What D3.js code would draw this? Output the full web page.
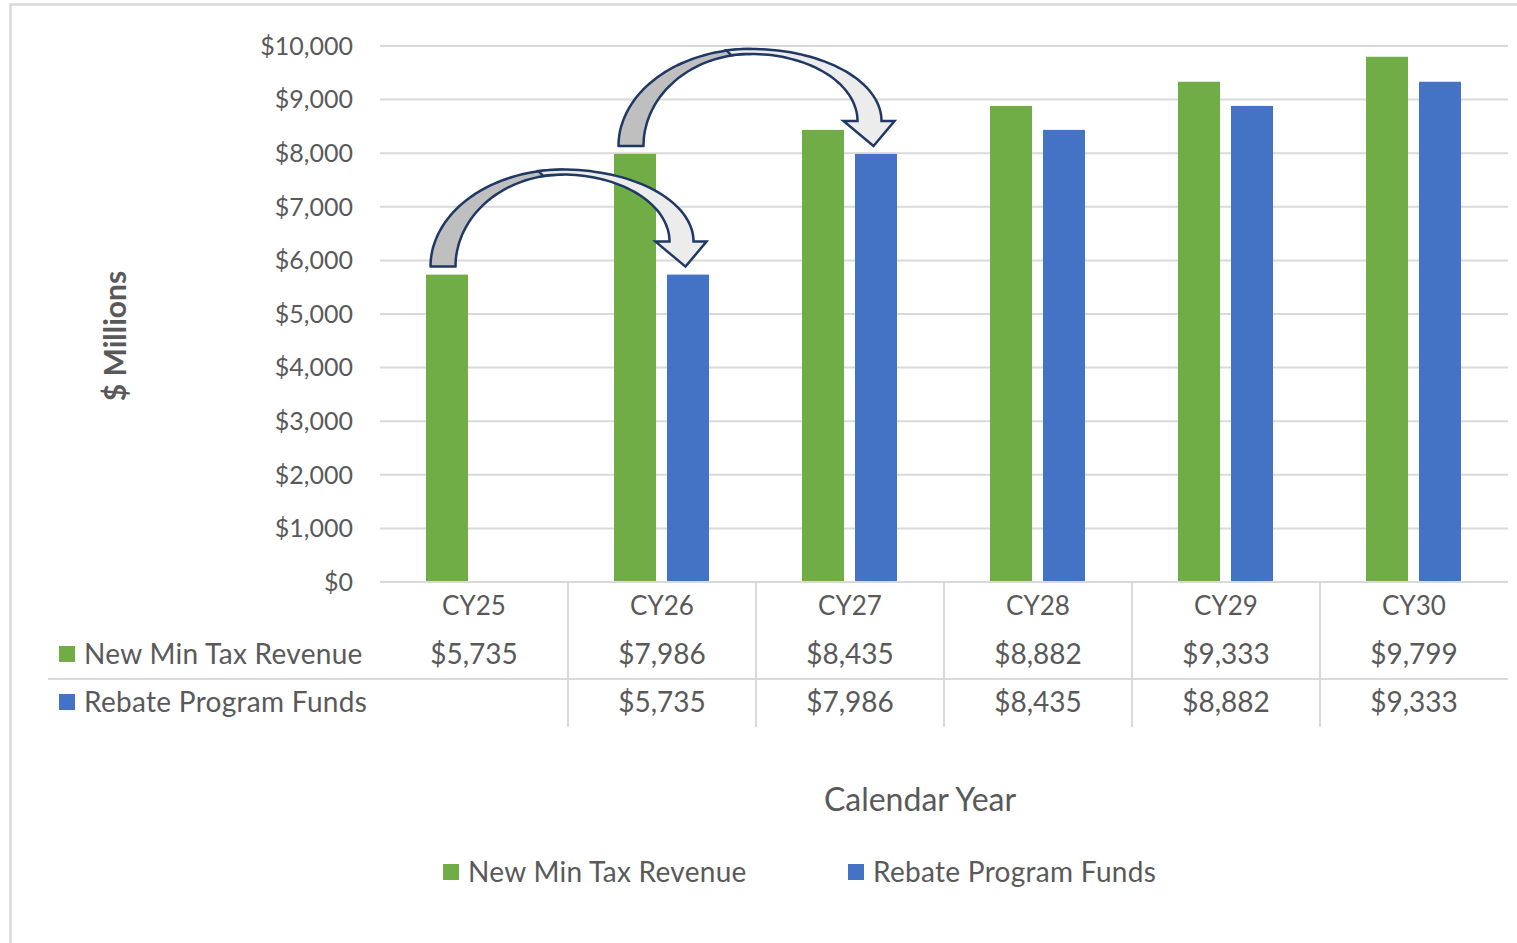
<!DOCTYPE html>
<html>
<head>
<meta charset="utf-8">
<script src="https://cdn.jsdelivr.net/npm/d3@7"></script>
<style>
  html, body { margin: 0; padding: 0; background: #fff; }
  svg { display: block; font-family: Lato, 'Open Sans', sans-serif; }
</style>
</head>
<body>
<script>
// chart data
const categories = ['CY25', 'CY26', 'CY27', 'CY28', 'CY29', 'CY30'];
const newMinTax = [5735, 7986, 8435, 8882, 9333, 9799];
const rebateFunds = [null, 5735, 7986, 8435, 8882, 9333];
const yTicks = [0, 1000, 2000, 3000, 4000, 5000, 6000, 7000, 8000, 9000, 10000];
const seriesNames = ['New Min Tax Revenue', 'Rebate Program Funds'];
const seriesColors = ['#70ad47', '#4472c4'];

const W = 1517, H = 943;
const textColor = '#595959';
const gridColor = '#d9d9d9';

const svg = d3.select('body').append('svg')
  .attr('width', W)
  .attr('height', H);

// outer chart frame (cut off at right/bottom)
svg.append('path')
  .attr('d', `M10.5,${H} L10.5,4.5 L${W},4.5`)
  .attr('fill', 'none')
  .attr('stroke', gridColor)
  .attr('stroke-width', 2.5);

const plot = { left: 380, right: 1508, top: 46, bottom: 582 };

const x0 = d3.scaleBand()
  .domain(categories)
  .range([plot.left, plot.right])
  .padding(0);

const x1 = d3.scaleBand()
  .domain([0, 1])
  .range([46, 141])
  .paddingInner(11 / 53);

const y = d3.scaleLinear()
  .domain([0, 10000])
  .range([plot.bottom, plot.top]);

// gridlines
svg.append('g')
  .selectAll('line')
  .data(yTicks)
  .join('line')
  .attr('x1', plot.left)
  .attr('x2', plot.right)
  .attr('y1', d => y(d))
  .attr('y2', d => y(d))
  .attr('stroke', gridColor)
  .attr('stroke-width', 2);

// y tick labels
svg.append('g')
  .selectAll('text')
  .data(yTicks)
  .join('text')
  .attr('x', 353)
  .attr('y', d => y(d))
  .attr('dy', '0.35em')
  .attr('text-anchor', 'end')
  .attr('fill', textColor)
  .style('font-size', '25px')
  .text(d => '$' + d3.format(',')(d));

// bars
const seriesData = [newMinTax, rebateFunds];
seriesData.forEach((values, s) => {
  svg.append('g')
    .selectAll('rect')
    .data(categories.map((c, i) => ({ c, v: values[i] })).filter(d => d.v != null))
    .join('rect')
    .attr('x', d => x0(d.c) + x1(s))
    .attr('width', x1.bandwidth())
    .attr('y', d => y(d.v))
    .attr('height', d => y(0) - y(d.v))
    .attr('fill', seriesColors[s]);
});

// curved arrows: green of year i -> blue of year i+1
function ellipsePts(cx, cy, rx, ry, a0, a1, n) {
  const pts = [];
  for (let k = 0; k <= n; k++) {
    const a = a0 + (a1 - a0) * k / n;
    pts.push([cx + rx * Math.cos(a), cy - ry * Math.sin(a)]);
  }
  return pts;
}
const toPath = pts => 'M' + pts.map(p => p[0].toFixed(1) + ',' + p[1].toFixed(1)).join('L') + 'Z';

// back (darker) band from tail to the top
const backBand = ellipsePts(120, 0, 132.5, 97, Math.PI, Math.PI / 2, 40)
  .concat(ellipsePts(120, 0, 107.5, 92, Math.PI / 2, Math.PI, 40));
// front (lighter) band from the top to the arrow head
const frontBand = ellipsePts(120, -25, 106.5, 67, 0, Math.PI * 0.56, 40)
  .concat(ellipsePts(120, -25, 130.5, 72, Math.PI * 0.56, 0, 40))
  .concat([[263.5, -25], [242.5, 0], [212.5, -25]]);

[0, 1].forEach(i => {
  const ox = x0(categories[i]) + x1(0) + x1.bandwidth() / 2 - 4;
  const oy = y(newMinTax[i]) - 8;
  const g = svg.append('g').attr('transform', `translate(${ox},${oy})`);
  g.append('path')
    .attr('d', toPath(backBand))
    .attr('fill', '#bfbfbf')
    .attr('stroke', '#1f3864')
    .attr('stroke-width', 2.5)
    .attr('stroke-linejoin', 'round');
  g.append('path')
    .attr('d', toPath(frontBand))
    .attr('fill', '#ececec')
    .attr('stroke', '#1f3864')
    .attr('stroke-width', 2.5)
    .attr('stroke-linejoin', 'miter');
});

// data table
const table = svg.append('g');
table.append('line')
  .attr('x1', plot.left).attr('x2', plot.right)
  .attr('y1', plot.bottom).attr('y2', plot.bottom)
  .attr('stroke', gridColor).attr('stroke-width', 2);
table.append('line')
  .attr('x1', 48).attr('x2', plot.right)
  .attr('y1', 679).attr('y2', 679)
  .attr('stroke', gridColor).attr('stroke-width', 2);
table.selectAll('line.v')
  .data(categories.slice(1))
  .join('line')
  .attr('class', 'v')
  .attr('x1', d => x0(d)).attr('x2', d => x0(d))
  .attr('y1', plot.bottom).attr('y2', 727)
  .attr('stroke', gridColor).attr('stroke-width', 2);

table.selectAll('text.cat')
  .data(categories)
  .join('text')
  .attr('class', 'cat')
  .attr('x', d => x0(d) + x0.bandwidth() / 2)
  .attr('y', 606)
  .attr('dy', '0.35em')
  .attr('text-anchor', 'middle')
  .attr('fill', textColor)
  .style('font-size', '26px')
  .text(d => d);

const rowY = [654, 702];
seriesData.forEach((values, s) => {
  table.append('rect')
    .attr('x', 59).attr('y', rowY[s] - 8)
    .attr('width', 16).attr('height', 16)
    .attr('fill', seriesColors[s]);
  table.append('text')
    .attr('x', 84).attr('y', rowY[s])
    .attr('dy', '0.35em')
    .attr('fill', textColor)
    .style('font-size', '28px')
    .style('letter-spacing', '0.3px')
    .text(seriesNames[s]);
  table.append('g')
    .selectAll('text')
    .data(categories.map((c, i) => ({ c, v: values[i] })).filter(d => d.v != null))
    .join('text')
    .attr('x', d => x0(d.c) + x0.bandwidth() / 2)
    .attr('y', rowY[s])
    .attr('dy', '0.35em')
    .attr('text-anchor', 'middle')
    .attr('fill', textColor)
    .style('font-size', '28px')
    .text(d => '$' + d3.format(',')(d.v));
});

// axis titles
svg.append('text')
  .attr('transform', 'translate(115,336) rotate(-90)')
  .attr('dy', '0.35em')
  .attr('text-anchor', 'middle')
  .attr('fill', textColor)
  .style('font-size', '30px')
  .style('font-weight', 'bold')
  .text('$ Millions');

svg.append('text')
  .attr('x', 920).attr('y', 800)
  .attr('dy', '0.35em')
  .attr('text-anchor', 'middle')
  .attr('fill', textColor)
  .style('font-size', '32px')
  .text('Calendar Year');

// legend
const legendX = [443, 848];
seriesNames.forEach((name, s) => {
  const lg = svg.append('g').attr('transform', `translate(${legendX[s]},872)`);
  lg.append('rect')
    .attr('x', 0).attr('y', -8)
    .attr('width', 16).attr('height', 16)
    .attr('fill', seriesColors[s]);
  lg.append('text')
    .attr('x', 25).attr('y', 0)
    .attr('dy', '0.35em')
    .attr('fill', textColor)
    .style('font-size', '28px')
    .style('letter-spacing', '0.3px')
    .text(name);
});
</script>
</body>
</html>
